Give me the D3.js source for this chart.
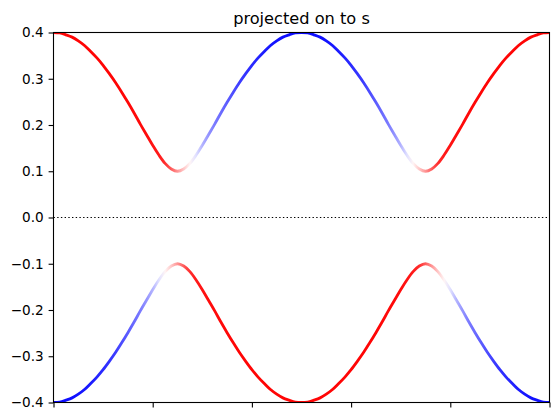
<!DOCTYPE html>
<html>
<head>
<meta charset="utf-8">
<script src="https://cdn.jsdelivr.net/npm/d3@7"></script>
<style>
  html, body { margin: 0; padding: 0; background: #fff; }
  svg { display: block; }
  text { font-family: "DejaVu Sans", sans-serif; }
</style>
</head>
<body>
<div id="chart"></div>
<script>
// ---- data ----
const title = "projected on to s";
const xs = [0, 0.0125, 0.025, 0.0375, 0.05, 0.0625, 0.075, 0.0875, 0.1, 0.1125,
  0.125, 0.1375, 0.15, 0.1625, 0.175, 0.1875, 0.2, 0.2125, 0.225, 0.2375,
  0.25, 0.2625, 0.275, 0.2875, 0.3, 0.3125, 0.325, 0.3375, 0.35, 0.3625,
  0.375, 0.3875, 0.4, 0.4125, 0.425, 0.4375, 0.45, 0.4625, 0.475, 0.4875,
  0.5, 0.5125, 0.525, 0.5375, 0.55, 0.5625, 0.575, 0.5875, 0.6, 0.6125,
  0.625, 0.6375, 0.65, 0.6625, 0.675, 0.6875, 0.7, 0.7125, 0.725, 0.7375,
  0.75, 0.7625, 0.775, 0.7875, 0.8, 0.8125, 0.825, 0.8375, 0.85, 0.8625,
  0.875, 0.8875, 0.9, 0.9125, 0.925, 0.9375, 0.95, 0.9625, 0.975, 0.9875, 1];

const upperBand = [0.400, 0.399, 0.395, 0.390, 0.382, 0.372, 0.359, 0.345, 0.329, 0.311,
  0.292, 0.271, 0.249, 0.226, 0.202, 0.179, 0.156, 0.135, 0.117, 0.105,
  0.100, 0.105, 0.117, 0.135, 0.156, 0.179, 0.202, 0.226, 0.249, 0.271,
  0.292, 0.311, 0.329, 0.345, 0.359, 0.372, 0.382, 0.390, 0.395, 0.399,
  0.400, 0.399, 0.395, 0.390, 0.382, 0.372, 0.359, 0.345, 0.329, 0.311,
  0.292, 0.271, 0.249, 0.226, 0.202, 0.179, 0.156, 0.135, 0.117, 0.105,
  0.100, 0.105, 0.117, 0.135, 0.156, 0.179, 0.202, 0.226, 0.249, 0.271,
  0.292, 0.311, 0.329, 0.345, 0.359, 0.372, 0.382, 0.390, 0.395, 0.399, 0.400];

const lowerBand = [-0.400, -0.399, -0.395, -0.390, -0.382, -0.372, -0.359, -0.345, -0.329, -0.311,
  -0.292, -0.271, -0.249, -0.226, -0.202, -0.179, -0.156, -0.135, -0.117, -0.105,
  -0.100, -0.105, -0.117, -0.135, -0.156, -0.179, -0.202, -0.226, -0.249, -0.271,
  -0.292, -0.311, -0.329, -0.345, -0.359, -0.372, -0.382, -0.390, -0.395, -0.399,
  -0.400, -0.399, -0.395, -0.390, -0.382, -0.372, -0.359, -0.345, -0.329, -0.311,
  -0.292, -0.271, -0.249, -0.226, -0.202, -0.179, -0.156, -0.135, -0.117, -0.105,
  -0.100, -0.105, -0.117, -0.135, -0.156, -0.179, -0.202, -0.226, -0.249, -0.271,
  -0.292, -0.311, -0.329, -0.345, -0.359, -0.372, -0.382, -0.390, -0.395, -0.399, -0.400];

// projection weight (0 = blue, 0.5 = white, 1 = red)
const upperWeight = [0.99, 0.99, 0.99, 0.99, 0.99, 0.99, 0.99, 0.99, 0.99, 0.99,
  0.99, 0.99, 0.985, 0.98, 0.98, 0.975, 0.96, 0.95, 0.91, 0.82,
  0.71, 0.61, 0.52, 0.44, 0.35, 0.29, 0.24, 0.21, 0.18, 0.15,
  0.12, 0.10, 0.085, 0.07, 0.055, 0.045, 0.035, 0.03, 0.025, 0.02,
  0.02, 0.02, 0.025, 0.03, 0.035, 0.045, 0.055, 0.07, 0.085, 0.10,
  0.12, 0.15, 0.18, 0.21, 0.24, 0.29, 0.35, 0.44, 0.52, 0.61,
  0.71, 0.82, 0.91, 0.95, 0.96, 0.975, 0.98, 0.98, 0.985, 0.99,
  0.99, 0.99, 0.99, 0.99, 0.99, 0.99, 0.99, 0.99, 0.99, 0.99, 0.99];

const lowerWeight = [0.02, 0.02, 0.025, 0.03, 0.035, 0.045, 0.055, 0.07, 0.085, 0.10,
  0.12, 0.15, 0.18, 0.21, 0.24, 0.29, 0.35, 0.44, 0.52, 0.61,
  0.71, 0.82, 0.91, 0.95, 0.96, 0.975, 0.98, 0.98, 0.985, 0.99,
  0.99, 0.99, 0.99, 0.99, 0.99, 0.99, 0.99, 0.99, 0.99, 0.99,
  0.99, 0.99, 0.99, 0.99, 0.99, 0.99, 0.99, 0.99, 0.99, 0.99,
  0.99, 0.99, 0.99, 0.985, 0.98, 0.98, 0.975, 0.96, 0.95, 0.91,
  0.82, 0.71, 0.61, 0.52, 0.44, 0.35, 0.29, 0.24, 0.21, 0.18,
  0.15, 0.12, 0.10, 0.085, 0.07, 0.055, 0.045, 0.035, 0.03, 0.025, 0.02];

const yTicks = [-0.4, -0.3, -0.2, -0.1, 0.0, 0.1, 0.2, 0.3, 0.4];
const xTicks = [0, 0.2, 0.4, 0.6, 0.8, 1.0];

// ---- layout ----
const W = 559, H = 420;
const L = 53.5, R = 549.5, T = 32.5, B = 402.5;

const svg = d3.select("#chart").append("svg")
  .attr("width", W).attr("height", H);

const x = d3.scaleLinear().domain([0, 1]).range([L, R]);
const y = d3.scaleLinear().domain([-0.4, 0.4]).range([B, T]);

// bwr colormap
function bwr(v) {
  v = Math.max(0, Math.min(1, v));
  let r, g, b;
  if (v < 0.5) { r = 2 * v; g = 2 * v; b = 1; }
  else { r = 1; g = 2 * (1 - v); b = 2 * (1 - v); }
  return d3.rgb(r * 255, g * 255, b * 255).toString();
}

const defs = svg.append("defs");
defs.append("clipPath").attr("id", "clip")
  .append("rect").attr("x", L).attr("y", T).attr("width", R - L).attr("height", B - T);

function makeGradient(id, weights) {
  const g = defs.append("linearGradient").attr("id", id)
    .attr("gradientUnits", "userSpaceOnUse")
    .attr("x1", x(0)).attr("x2", x(1)).attr("y1", 0).attr("y2", 0);
  g.selectAll("stop").data(xs).join("stop")
    .attr("offset", d => d)
    .attr("stop-color", (d, i) => bwr(weights[i]));
}
makeGradient("gUp", upperWeight);
makeGradient("gLow", lowerWeight);

const plot = svg.append("g").attr("clip-path", "url(#clip)");

// zero line
plot.append("line")
  .attr("x1", L).attr("x2", R).attr("y1", y(0)).attr("y2", y(0))
  .attr("stroke", "#000").attr("stroke-width", 1.2)
  .attr("stroke-dasharray", "1.4,2.3");

const line = d3.line().x(d => x(d[0])).y(d => y(d[1])).curve(d3.curveCatmullRom.alpha(0.5));

plot.append("path")
  .attr("d", line(xs.map((v, i) => [v, upperBand[i]])))
  .attr("fill", "none").attr("stroke", "url(#gUp)").attr("stroke-width", 2.8);
plot.append("path")
  .attr("d", line(xs.map((v, i) => [v, lowerBand[i]])))
  .attr("fill", "none").attr("stroke", "url(#gLow)").attr("stroke-width", 2.8);

// axes
const yAxis = d3.axisLeft(y).tickValues(yTicks).tickSize(4.9).tickPadding(4.9)
  .tickFormat(d => d3.format(".1f")(d).replace("-", "\u2212"));
const gy = svg.append("g").attr("transform", `translate(${L},0)`).call(yAxis);
gy.select(".domain").remove();
gy.selectAll("text").attr("font-size", "13.6px").attr("fill", "#000")
  .attr("font-family", "DejaVu Sans, sans-serif");
gy.selectAll("line").attr("stroke", "#000").attr("stroke-width", 1.1);

const xAxis = d3.axisBottom(x).tickValues(xTicks).tickSize(4.9).tickFormat(() => "");
const gx = svg.append("g").attr("transform", `translate(0,${B})`).call(xAxis);
gx.select(".domain").remove();
gx.selectAll("line").attr("stroke", "#000").attr("stroke-width", 1.1);

// frame
svg.append("rect").attr("x", L).attr("y", T).attr("width", R - L).attr("height", B - T)
  .attr("fill", "none").attr("stroke", "#000").attr("stroke-width", 1.1);

// title
svg.append("text").attr("x", (L + R) / 2).attr("y", T - 8.3)
  .attr("text-anchor", "middle").attr("font-size", "16.2px").attr("fill", "#000")
  .text(title);
</script>
</body>
</html>
